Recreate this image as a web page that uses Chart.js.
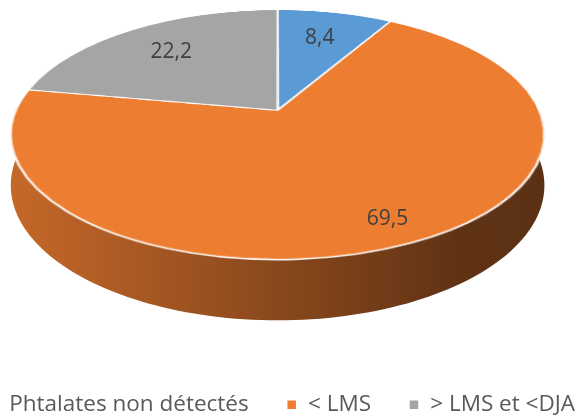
<!DOCTYPE html>
<html>
<head>
<meta charset="utf-8">
<script src="https://cdn.jsdelivr.net/npm/chart.js"></script>
<style>
  html, body { margin: 0; padding: 0; background: #fff; overflow: hidden; }
  #wrap { position: absolute; left: -50px; top: 0; }
</style>
</head>
<body>
<div id="wrap"><canvas id="myChart" width="700" height="426"></canvas></div>
<script>
// data
var categories = ['Phtalates non détectés', '< LMS', '> LMS et <DJA'];
var values = [8.4, 69.5, 22.2];
var sliceColors = ['#5B9BD5', '#ED7D31', '#A5A5A5'];

// where each value label sits, as a fraction of the radius (excel "best fit")
var labelRadius = [0.7, 0.85, 0.7];

// 3d look: perspective of the tilted disc, in units of the flat pie radius
var view = { shift: -0.1266, spread: 1.4785, lift: -0.3812, tilt: 0.7535, persp: -0.195, depth: 0.2762 };

function shade(hex, k) {
  var n = parseInt(hex.slice(1), 16);
  var r = Math.round(((n >> 16) & 255) * k), g = Math.round(((n >> 8) & 255) * k), b = Math.round((n & 255) * k);
  return 'rgb(' + r + ',' + g + ',' + b + ')';
}

// chart.js draws a flat pie, this plugin tilts it and adds the side wall
var pie3d = {
  id: 'pie3d',
  afterDatasetsDraw: function (chart) {
    var arcs = chart.getDatasetMeta(0).data;
    var ca = chart.chartArea;
    var ctx = chart.ctx;
    var cx = arcs[0].x, cy = arcs[0].y, R = arcs[0].outerRadius;

    function project(u, v, drop) {
      var w = 1 + view.persp * v;
      return {
        x: cx + R * (view.shift + view.spread * u / w),
        y: cy + R * (view.lift + view.tilt * v + (drop ? view.depth : 0)) / w
      };
    }

    var flat = document.createElement('canvas');
    flat.width = chart.canvas.width;
    flat.height = chart.canvas.height;
    flat.getContext('2d').drawImage(chart.canvas, 0, 0);

    ctx.save();
    ctx.clearRect(ca.left, ca.top, ca.right - ca.left, ca.bottom - ca.top);

    // side wall, front half only
    var ts = Math.asin(-view.persp);
    var xL = project(-Math.cos(ts), Math.sin(ts)).x, xR = project(Math.cos(ts), Math.sin(ts)).x;
    arcs.forEach(function (arc, i) {
      var a0 = Math.max(arc.startAngle, 0), a1 = Math.min(arc.endAngle, Math.PI);
      if (a1 <= a0) return;
      var steps = 120, k, t, p;
      ctx.beginPath();
      for (k = 0; k <= steps; k++) {
        t = a0 + (a1 - a0) * k / steps;
        p = project(Math.cos(t), Math.sin(t));
        if (k) ctx.lineTo(p.x, p.y); else ctx.moveTo(p.x, p.y);
      }
      for (k = steps; k >= 0; k--) {
        t = a0 + (a1 - a0) * k / steps;
        p = project(Math.cos(t), Math.sin(t), true);
        ctx.lineTo(p.x, p.y);
      }
      ctx.closePath();
      var grad = ctx.createLinearGradient(xL, 0, xR, 0);
      grad.addColorStop(0, shade(sliceColors[i], 0.83));
      grad.addColorStop(0.85, shade(sliceColors[i], 0.40));
      grad.addColorStop(1, shade(sliceColors[i], 0.39));
      ctx.fillStyle = grad;
      ctx.fill();
    });

    // top face: each output row takes one row of the flat pie
    var yTop = project(0, -1).y, yBot = project(0, 1).y;
    var x0 = cx - R - 2, sw = 2 * R + 4;
    for (var y = Math.floor(yTop) - 1; y <= Math.ceil(yBot) + 1; y++) {
      var Y = (y + 0.5 - cy) / R;
      var v = (Y - view.lift) / (view.tilt - view.persp * Y);
      if (v < -1.01 || v > 1.01) continue;
      var f = view.spread / (1 + view.persp * v);
      var sy = Math.min(Math.max(cy + v * R - 0.5, 0), flat.height - 1);
      ctx.drawImage(flat, x0, sy, sw, 1, cx + R * view.shift - (R + 2) * f, y, sw * f, 1);
    }

    // value labels
    ctx.font = '21px "Open Sans"';
    ctx.fillStyle = '#404040';
    ctx.textAlign = 'center';
    ctx.textBaseline = 'middle';
    arcs.forEach(function (arc, i) {
      var mid = (arc.startAngle + arc.endAngle) / 2, r = labelRadius[i];
      var p = project(r * Math.cos(mid), r * Math.sin(mid));
      ctx.fillText(String(values[i]).replace('.', ','), p.x, p.y);
    });
    ctx.restore();
  }
};

var chart = new Chart(document.getElementById('myChart'), {
  type: 'pie',
  data: {
    labels: categories,
    datasets: [{
      data: values,
      backgroundColor: sliceColors,
      borderColor: '#ffffff',
      borderWidth: 1.5
    }]
  },
  options: {
    responsive: false,
    animation: false,
    events: [],
    devicePixelRatio: 1,
    layout: { padding: 0 },
    plugins: {
      legend: {
        position: 'bottom',
        align: 'start',
        labels: {
          boxWidth: 10,
          boxHeight: 10,
          padding: 38,
          color: '#595959',
          font: { family: 'Open Sans', size: 22.5 }
        }
      },
      tooltip: { enabled: false }
    }
  },
  plugins: [pie3d]
});
</script>
</body>
</html>
